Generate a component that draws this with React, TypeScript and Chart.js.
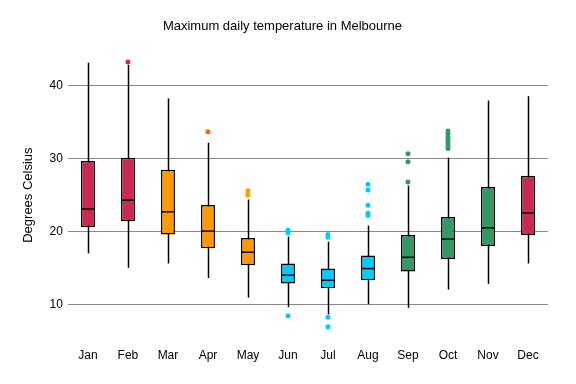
import React, { useEffect, useRef } from "react";
import { Chart, registerables } from "chart.js";

Chart.register(...registerables);

const months = ["Jan", "Feb", "Mar", "Apr", "May", "Jun", "Jul", "Aug", "Sep", "Oct", "Nov", "Dec"];
const whiskerLow = [17.0, 15.0, 15.6, 13.6, 10.9, 9.6, 8.6, 10.0, 9.5, 12.0, 12.8, 15.6];
const q1 = [20.6, 21.4, 19.6, 17.7, 15.35, 12.85, 12.2, 13.3, 14.5, 16.2, 18.0, 19.5];
const median = [23.1, 24.3, 22.7, 20.05, 17.15, 14.0, 13.3, 14.9, 16.45, 18.95, 20.5, 22.55];
const q3 = [29.7, 30.15, 28.5, 23.65, 19.1, 15.6, 14.9, 16.7, 19.5, 22.0, 26.1, 27.65];
const whiskerHigh = [43.2, 42.9, 38.3, 32.2, 24.4, 19.3, 18.6, 20.8, 26.3, 30.15, 38.0, 38.6];
const boxColors = ["#cc2952", "#cc2952", "#ff9900", "#ff9900", "#ff9900", "#00ccff", "#00ccff", "#00ccff", "#339966", "#339966", "#339966", "#cc2952"];
const outlierMonths = ["Feb", "Apr", "May", "May", "Jun", "Jun", "Jun", "Jul", "Jul", "Jul", "Jul", "Aug", "Aug", "Aug", "Aug", "Aug", "Sep", "Sep", "Sep", "Oct", "Oct", "Oct", "Oct", "Oct", "Oct", "Oct"];
const outlierValues = [43.3, 33.7, 25.6, 25.0, 20.2, 19.8, 8.4, 19.6, 19.2, 8.2, 6.9, 26.5, 25.7, 23.6, 22.5, 22.2, 30.7, 29.6, 26.8, 33.8, 33.4, 33.0, 32.6, 32.2, 31.8, 31.4];
const outlierColors = ["#cc2952", "#ff6600", "#ff9900", "#ff9900", "#00ccff", "#00ccff", "#00ccff", "#00ccff", "#00ccff", "#00ccff", "#00ccff", "#00ccff", "#00ccff", "#00ccff", "#00ccff", "#00ccff", "#339966", "#339966", "#339966", "#339966", "#339966", "#339966", "#339966", "#339966", "#339966", "#339966"];
const yTicks = [10, 20, 30, 40];

const FONT = "'Liberation Sans', 'DejaVu Sans', sans-serif";

const boxPlugin = {
  id: "boxParts",
  beforeDatasetsDraw(chart: any) {
    const { ctx, scales } = chart;
    const x = scales.x, y = scales.y;
    ctx.save();
    ctx.strokeStyle = "#000";
    ctx.lineWidth = 1.5;
    months.forEach((m, i) => {
      const px = Math.round(x.getPixelForValue(i)) + 0.5;
      ctx.beginPath();
      ctx.moveTo(px, y.getPixelForValue(whiskerLow[i]));
      ctx.lineTo(px, y.getPixelForValue(whiskerHigh[i]));
      ctx.stroke();
    });
    ctx.restore();
  },
  afterDatasetsDraw(chart: any) {
    const { ctx, scales } = chart;
    const y = scales.y;
    const meta = chart.getDatasetMeta(0);
    ctx.save();
    ctx.strokeStyle = "#000";
    ctx.lineWidth = 1.5;
    months.forEach((m, i) => {
      const bar = meta.data[i];
      const w = bar.width;
      const px = bar.x;
      const py = y.getPixelForValue(median[i]);
      ctx.beginPath();
      ctx.moveTo(px - w / 2, py);
      ctx.lineTo(px + w / 2, py);
      ctx.stroke();
    });
    ctx.restore();
  },
};

export default function App() {
  const ref = useRef<HTMLCanvasElement>(null);
  useEffect(() => {
    document.body.style.margin = "0";
    const chart = new Chart(ref.current!, {
      type: "bar",
      data: {
        labels: months,
        datasets: [
          {
            type: "bar",
            data: months.map((_, i) => [q1[i], q3[i]]) as any,
            backgroundColor: boxColors,
            borderColor: "#000",
            borderWidth: 1.5,
            borderSkipped: false,
            barPercentage: 0.35,
            categoryPercentage: 1,
            order: 1,
          },
          {
            type: "line",
            data: outlierMonths.map((m, i) => ({ x: m, y: outlierValues[i] })) as any,
            showLine: false,
            pointRadius: 2.5,
            pointBorderWidth: 0,
            pointBackgroundColor: outlierColors,
            pointBorderColor: outlierColors,
            order: 0,
          },
        ],
      },
      options: {
        animation: false,
        responsive: false,
        layout: { padding: { left: 17, right: 28, top: 0, bottom: 21 } },
        plugins: {
          legend: { display: false },
          tooltip: { enabled: false },
          title: {
            display: true,
            text: "Maximum daily temperature in Melbourne",
            color: "#000",
            font: { family: FONT, size: 13, weight: "normal" },
            padding: { top: 19, bottom: 15 },
          },
        },
        scales: {
          x: {
            grid: { display: false },
            border: { display: false },
            ticks: { color: "#000", font: { family: FONT, size: 12 }, padding: 0 },
          },
          y: {
            min: 5,
            max: 45,
            afterBuildTicks: (axis: any) => {
              axis.ticks = yTicks.map((v) => ({ value: v }));
            },
            grid: { color: "#888", lineWidth: 1, drawTicks: false },
            border: { display: false },
            ticks: { color: "#000", font: { family: FONT, size: 12 }, padding: 5 },
            title: {
              display: true,
              text: "Degrees Celsius",
              color: "#000",
              font: { family: FONT, size: 13 },
              padding: { bottom: 8 },
            },
          },
        },
      },
      plugins: [boxPlugin],
    });
    return () => chart.destroy();
  }, []);
  return (
    <div style={{ width: 576, height: 384 }}>
      <canvas ref={ref} width={576} height={384} style={{ width: 576, height: 384 }} />
    </div>
  );
}
